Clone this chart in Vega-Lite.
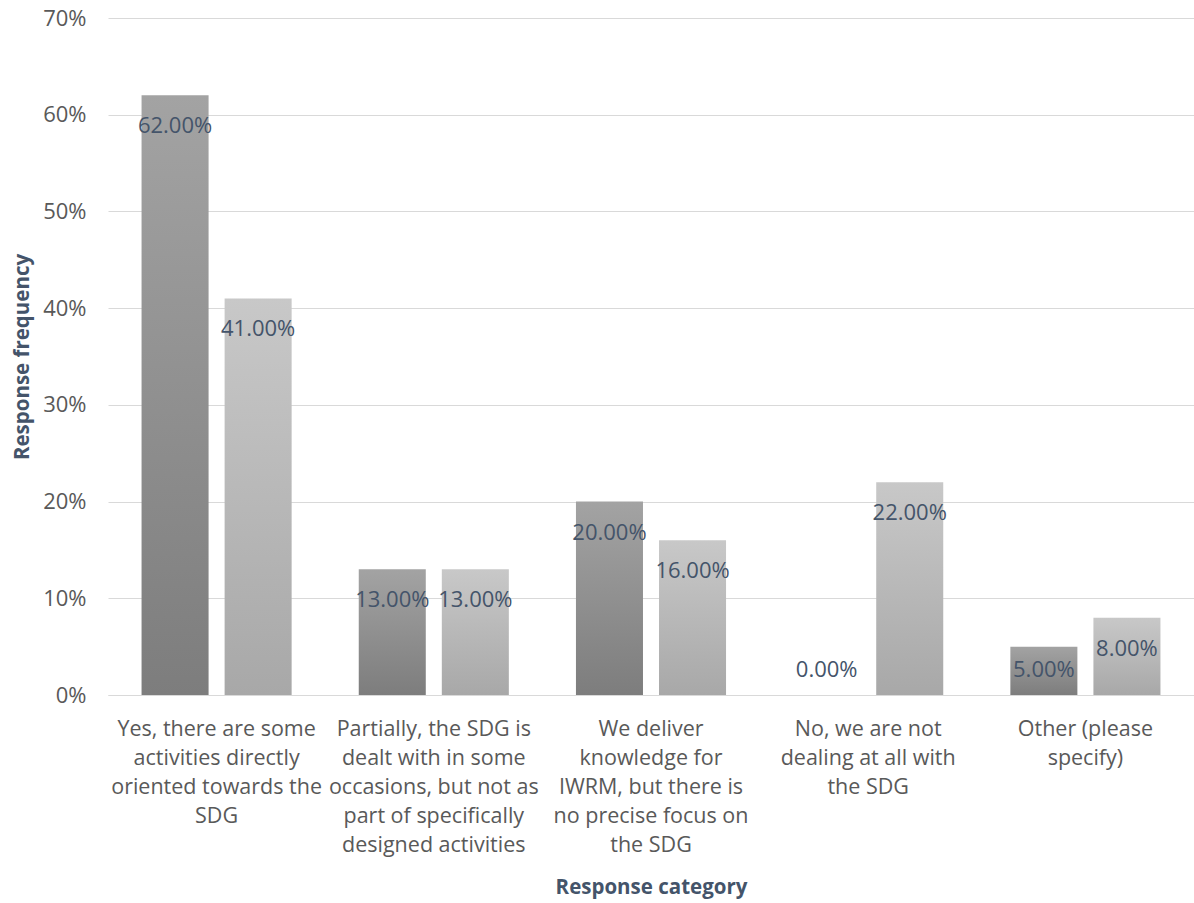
{
  "$schema": "https://vega.github.io/schema/vega-lite/v6.json",
  "width": 1086,
  "height": 677,
  "autosize": "none",
  "padding": {"left": 108, "top": 18, "right": 0, "bottom": 208},
  "background": "white",
  "config": {
    "view": {"stroke": null},
    "font": "Open Sans",
    "axis": {"labelFont": "Open Sans", "titleFont": "Open Sans"}
  },
  "data": {
    "values": [
      {"category": "Yes, there are some\nactivities directly\noriented towards the\nSDG", "series": "A", "share": 0.62},
      {"category": "Yes, there are some\nactivities directly\noriented towards the\nSDG", "series": "B", "share": 0.41},
      {"category": "Partially, the SDG is\ndealt with in some\noccasions, but not as\npart of specifically\ndesigned activities", "series": "A", "share": 0.13},
      {"category": "Partially, the SDG is\ndealt with in some\noccasions, but not as\npart of specifically\ndesigned activities", "series": "B", "share": 0.13},
      {"category": "We deliver\nknowledge for\nIWRM, but there is\nno precise focus on\nthe SDG", "series": "A", "share": 0.20},
      {"category": "We deliver\nknowledge for\nIWRM, but there is\nno precise focus on\nthe SDG", "series": "B", "share": 0.16},
      {"category": "No, we are not\ndealing at all with\nthe SDG", "series": "A", "share": 0.0},
      {"category": "No, we are not\ndealing at all with\nthe SDG", "series": "B", "share": 0.22},
      {"category": "Other (please\nspecify)", "series": "A", "share": 0.05},
      {"category": "Other (please\nspecify)", "series": "B", "share": 0.08}
    ]
  },
  "transform": [
    {"calculate": "max(datum.share - 0.032, 0.026)", "as": "labelPos"}
  ],
  "encoding": {
    "x": {
      "field": "category",
      "type": "nominal",
      "sort": null,
      "scale": {"paddingInner": 0.309, "paddingOuter": 0.1545},
      "axis": {
        "title": "Response category",
        "titleFontSize": 20.5,
        "titleFontWeight": "bold",
        "titleColor": "#44546A",
        "titlePadding": 22,
        "labelAngle": 0,
        "labelFontSize": 21.5,
        "labelColor": "#595959",
        "labelPadding": 23,
        "labelLimit": 400,
        "labelLineHeight": 29,
        "labelExpr": "split(datum.label, '\\n')",
        "ticks": false,
        "domain": true,
        "domainColor": "#d9d9d9",
        "grid": false
      }
    },
    "xOffset": {
      "field": "series",
      "type": "nominal",
      "scale": {"paddingInner": 0.193, "paddingOuter": 0}
    }
  },
  "layer": [
    {
      "mark": {"type": "bar"},
      "encoding": {
        "y": {
          "field": "share",
          "type": "quantitative",
          "scale": {"domain": [0, 0.7]},
          "axis": {
            "title": "Response frequency",
            "titleFontSize": 20.5,
            "titleFontWeight": "bold",
            "titleColor": "#44546A",
            "titlePadding": 10,
            "format": ".0%",
            "values": [0, 0.1, 0.2, 0.3, 0.4, 0.5, 0.6, 0.7],
            "labelFontSize": 22,
            "labelColor": "#595959",
            "labelPadding": 22,
            "ticks": false,
            "domain": false,
            "grid": true,
            "gridColor": "#d9d9d9",
            "gridWidth": 1.2
          }
        },
        "color": {
          "condition": {
            "test": "datum.series == 'A'",
            "value": {
              "gradient": "linear",
              "x1": 0, "y1": 0, "x2": 0, "y2": 1,
              "stops": [
                {"offset": 0, "color": "#a3a3a3"},
                {"offset": 1, "color": "#7d7d7d"}
              ]
            }
          },
          "value": {
            "gradient": "linear",
            "x1": 0, "y1": 0, "x2": 0, "y2": 1,
            "stops": [
              {"offset": 0, "color": "#c8c8c8"},
              {"offset": 1, "color": "#a8a8a8"}
            ]
          }
        }
      }
    },
    {
      "mark": {"type": "text", "fontSize": 22, "color": "#44546A", "baseline": "middle", "align": "center"},
      "encoding": {
        "y": {"field": "labelPos", "type": "quantitative"},
        "text": {"field": "share", "type": "quantitative", "format": ".2%"}
      }
    }
  ]
}
